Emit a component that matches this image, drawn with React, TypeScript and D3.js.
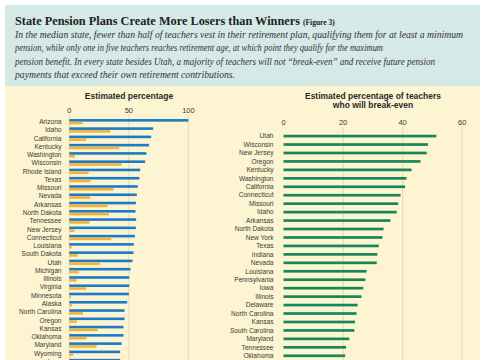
import * as d3 from "d3";

// left panel: share of teachers who vest (blue) / reach retirement age (orange)
const leftStates = [
  "Arizona", "Idaho", "California", "Kentucky", "Washington", "Wisconsin",
  "Rhode Island", "Texas", "Missouri", "Nevada", "Arkansas", "North Dakota",
  "Tennessee", "New Jersey", "Connecticut", "Louisiana", "South Dakota", "Utah",
  "Michigan", "Illinois", "Virginia", "Minnesota", "Alaska", "North Carolina",
  "Oregon", "Kansas", "Oklahoma", "Maryland", "Wyoming", "Iowa",
];
const vestValues = [
  100, 70.4, 68.7, 67, 64.8, 63.7, 59.5, 58.9, 57.5, 56.7, 55.9, 55.6,
  56.1, 55.9, 55, 54.2, 53.9, 53.1, 51.4, 50.3, 50.3, 50, 48.6, 46.4,
  46.4, 45.5, 45.5, 43.9, 42.7, 42.7,
];
const retireValues = [
  11.2, 34.4, 14, 41.9, 4.7, 43.9, 16.2, 17.6, 37.2, 17.6, 32.1, 33.2,
  17, 4.5, 35.2, 2, 7, 26, 7.8, 6.1, 14.2, 1.4, 2.2, 11.5,
  6.4, 24, 14.5, 22.9, 3.4, 10,
];
const leftTicks = [0, 50, 100];

// right panel: share of teachers who will break even
const rightStates = [
  "Utah", "Wisconsin", "New Jersey", "Oregon", "Kentucky", "Washington",
  "California", "Connecticut", "Missouri", "Idaho", "Arkansas", "North Dakota",
  "New York", "Texas", "Indiana", "Nevada", "Louisiana", "Pennsylvania", "Iowa",
  "Illinois", "Delaware", "North Carolina", "Kansas", "South Carolina",
  "Maryland", "Tennessee", "Oklahoma",
];
const breakEvenValues = [
  51.3, 48.5, 48.1, 46, 43, 41.3, 40.8, 39.3, 38.5, 38, 35.9, 33.6,
  33.2, 32, 31.5, 31.3, 27.9, 27.5, 26.8, 26.2, 24.9, 24.5, 24, 23.8,
  22.1, 21, 20.7,
];
const rightTicks = [0, 20, 40, 60];

const subtitleLines = [
  "In the median state, fewer than half of teachers vest in their retirement plan, qualifying them for at least a minimum",
  "pension, while only one in five teachers reaches retirement age, at which point they qualify for the maximum",
  "pension benefit. In every state besides Utah, a majority of teachers will not \u201cbreak-even\u201d and receive future pension",
  "payments that exceed their own retirement contributions.",
];
const subtitleWidths = [448, 368, 420, 220];

const W = 485;
const H = 360;
const sans = "'Liberation Sans', Arial, sans-serif";
const serif = "'Liberation Serif', 'Times New Roman', serif";
const gridColor = "#e9ddb8";
const labelColor = "#3a3a3a";

export default function App() {
  const xl = d3.scaleLinear().domain([0, 100]).range([69.3, 188.4]);
  const yl = d3.scaleBand().domain(leftStates).range([117.6, 117.6 + 8.27 * leftStates.length]);
  const xr = d3.scaleLinear().domain([0, 60]).range([283.5, 462.2]);
  const yr = d3.scaleBand().domain(rightStates).range([131.8, 131.8 + 8.45 * rightStates.length]);

  return (
    <svg width={W} height={H} style={{ position: "absolute", left: 0, top: 0 }}>
      <rect x={0} y={0} width={W} height={H} fill="#ffffff" />
      <rect x={5} y={5} width={475} height={81} fill="#d5e9e7" />
      <rect x={5} y={86} width={475} height={H - 86} fill="#fdf4d2" />

      <text x={15} y={25} fontFamily={serif} fontWeight="bold" fontSize={12.3} fill="#222">
        State Pension Plans Create More Losers than Winners
      </text>
      <text x={303} y={25} fontFamily={serif} fontWeight="bold" fontSize={7.5} fill="#222">
        (Figure 3)
      </text>
      {subtitleLines.map((t, i) => (
        <text key={i} x={15} y={37.5 + i * 13.6} fontFamily={serif} fontStyle="italic" fontSize={10}
          fill="#333" textLength={subtitleWidths[i]} lengthAdjust="spacingAndGlyphs">
          {t}
        </text>
      ))}

      {/* left chart */}
      <text x={129} y={99} textAnchor="middle" fontFamily={sans} fontWeight="bold" fontSize={8.5} fill="#2a2a2a">
        Estimated percentage
      </text>
      {leftTicks.map((t) => (
        <g key={t}>
          <line x1={xl(t)} x2={xl(t)} y1={114} y2={H} stroke={gridColor} strokeWidth={1} />
          <text x={xl(t)} y={112.5} textAnchor="middle" fontFamily={sans} fontSize={7.5} fill={labelColor}>
            {t}
          </text>
        </g>
      ))}
      {leftStates.map((s, i) => {
        const y0 = yl(s)!;
        const c = y0 + yl.bandwidth() / 2;
        return (
          <g key={s}>
            <text x={61.5} y={c + 2.3} textAnchor="end" fontFamily={sans} fontSize={6.6} fill={labelColor}>
              {s}
            </text>
            <rect x={xl(0)} y={c - 2.7} width={xl(vestValues[i]) - xl(0)} height={2.6} fill="#1b7bc6" />
            <rect x={xl(0)} y={c + 0.1} width={xl(retireValues[i]) - xl(0)} height={2.6} fill="#f3b23a" />
          </g>
        );
      })}

      {/* right chart */}
      <text x={373} y={99} textAnchor="middle" fontFamily={sans} fontWeight="bold" fontSize={8.5} fill="#2a2a2a">
        Estimated percentage of teachers
      </text>
      <text x={373} y={108} textAnchor="middle" fontFamily={sans} fontWeight="bold" fontSize={8.5} fill="#2a2a2a">
        who will break-even
      </text>
      {rightTicks.map((t) => (
        <g key={t}>
          {t > 0 && <line x1={xr(t)} x2={xr(t)} y1={127} y2={H} stroke={gridColor} strokeWidth={1.2} />}
          <text x={xr(t)} y={125} textAnchor="middle" fontFamily={sans} fontSize={7.5} fill={labelColor}>
            {t}
          </text>
        </g>
      ))}
      {rightStates.map((s, i) => {
        const c = yr(s)! + yr.bandwidth() / 2;
        return (
          <g key={s}>
            <text x={273.5} y={c + 2.3} textAnchor="end" fontFamily={sans} fontSize={6.6} fill={labelColor}>
              {s}
            </text>
            <rect x={xr(0)} y={c - 1.3} width={xr(breakEvenValues[i]) - xr(0)} height={2.7} fill="#17875a" />
          </g>
        );
      })}
    </svg>
  );
}
